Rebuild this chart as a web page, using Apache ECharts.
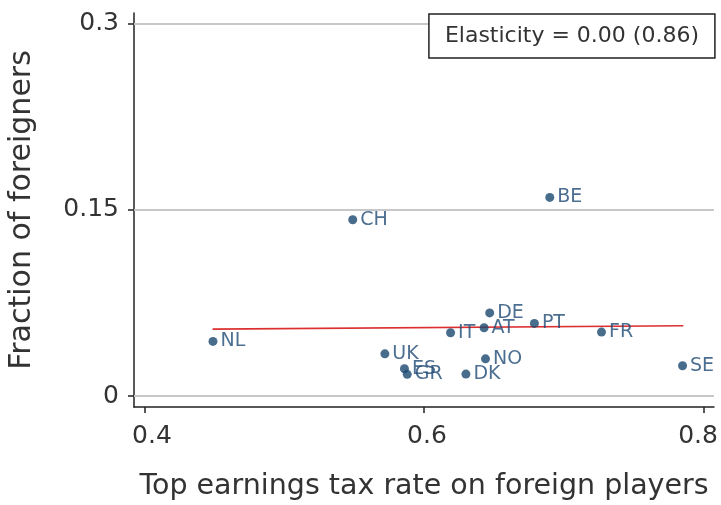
<!DOCTYPE html>
<html>
<head>
<meta charset="utf-8">
<script src="https://cdn.jsdelivr.net/npm/echarts@6/dist/echarts.min.js"></script>
<style>
  html, body { margin: 0; padding: 0; background: #fff; }
  #chart { width: 721px; height: 505px; }
</style>
</head>
<body>
<div id="chart"></div>
<script>
// Country codes with their top earnings tax rate and share of foreign players
const countries = ['NL', 'CH', 'BE', 'UK', 'ES', 'GR', 'IT', 'DE', 'AT', 'PT', 'FR', 'NO', 'DK', 'SE'];
const taxRates = [0.449, 0.549, 0.690, 0.572, 0.586, 0.588, 0.619, 0.647, 0.643, 0.679, 0.727, 0.644, 0.630, 0.785];
const foreignShares = [0.044, 0.142, 0.160, 0.034, 0.022, 0.0175, 0.051, 0.067, 0.055, 0.0585, 0.0515, 0.030, 0.0177, 0.0244];

// Fitted regression line end points
const fitX = [0.4487, 0.7856];
const fitY = [0.0539, 0.0566];

// Tick positions
const xTicks = [0.4, 0.6, 0.8];
const yTicks = [0, 0.15, 0.3];

const legendText = 'Elasticity = 0.00 (0.86)';

const FONT = '"DejaVu Sans", Verdana, sans-serif';
const NAVY = '#1a476f';

const points = countries.map((c, i) => ({ name: c, value: [taxRates[i], foreignShares[i]] }));
const fitLine = fitX.map((x, i) => [x, fitY[i]]);

const fmt = v => String(+(+v).toFixed(2));

// small horizontal nudges for the outer x labels so they stay inside the canvas
const xLabelStyles = ['a', 'b', 'c'];

const chart = echarts.init(document.getElementById('chart'), null, { renderer: 'canvas' });

chart.setOption({
  animation: false,
  backgroundColor: '#fff',
  title: {
    text: legendText,
    right: 6,
    top: 14,
    padding: [11, 16, 11, 16],
    borderColor: '#222',
    borderWidth: 1.5,
    backgroundColor: '#fff',
    textStyle: { fontFamily: FONT, fontSize: 22, fontWeight: 'normal', color: '#333' }
  },
  grid: { left: 134, right: 7, top: 13, bottom: 98, containLabel: false, outerBoundsMode: 'none' },
  xAxis: {
    type: 'value',
    min: 0.3925,
    max: 0.8075,
    name: 'Top earnings tax rate on foreign players',
    nameLocation: 'middle',
    nameGap: 65,
    nameTextStyle: { fontFamily: FONT, fontSize: 28.5, color: '#333' },
    axisLine: { onZero: false, lineStyle: { color: '#222', width: 1.5 } },
    axisTick: { show: true, length: 6, customValues: xTicks, lineStyle: { color: '#222', width: 1.5 } },
    axisLabel: {
      customValues: xTicks,
      margin: 17,
      fontFamily: FONT, fontSize: 25, color: '#333',
      formatter: v => {
        const i = xTicks.findIndex(t => Math.abs(t - v) < 1e-9);
        return '{' + (xLabelStyles[i] || 'b') + '|' + fmt(v) + '}';
      },
      rich: {
        a: { fontFamily: FONT, fontSize: 25, color: '#333', padding: [0, 0, 0, 15] },
        b: { fontFamily: FONT, fontSize: 25, color: '#333', padding: [0, 0, 0, 6] },
        c: { fontFamily: FONT, fontSize: 25, color: '#333', padding: [0, 11, 0, 0] }
      }
    },
    splitLine: { show: false }
  },
  yAxis: {
    type: 'value',
    min: -0.0088,
    max: 0.3085,
    name: 'Fraction of foreigners',
    nameLocation: 'middle',
    nameGap: 97,
    nameTextStyle: { fontFamily: FONT, fontSize: 30, color: '#333' },
    axisLine: { show: true, onZero: false, lineStyle: { color: '#222', width: 1.5 } },
    axisTick: { show: true, length: 6, customValues: yTicks, lineStyle: { color: '#222', width: 1.5 } },
    axisLabel: {
      customValues: yTicks,
      margin: 15,
      fontFamily: FONT, fontSize: 25, color: '#333',
      formatter: fmt
    },
    splitLine: { show: false }
  },
  series: [
    {
      // horizontal reference lines at the labelled y ticks
      type: 'line',
      data: [],
      silent: true,
      markLine: {
        silent: true,
        symbol: 'none',
        label: { show: false },
        lineStyle: { color: '#c8c8c8', width: 1.8, type: 'solid' },
        data: yTicks.map(v => ({ yAxis: v }))
      },
      z: 1
    },
    {
      type: 'line',
      data: fitLine,
      symbol: 'none',
      lineStyle: { color: '#dc3030', width: 1.6 },
      z: 2
    },
    {
      type: 'scatter',
      data: points,
      symbolSize: 9,
      itemStyle: { color: NAVY },
      label: {
        show: true,
        position: 'right',
        distance: 3,
        formatter: p => p.name,
        fontFamily: FONT,
        fontSize: 19,
        color: '#1f4a75'
      },
      labelLayout: { hideOverlap: false },
      z: 3
    }
  ]
});
</script>
</body>
</html>
